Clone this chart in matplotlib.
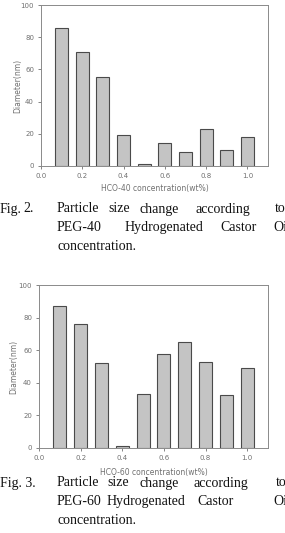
import matplotlib.pyplot as plt

# concentration (wt%) and measured diameter (nm)
conc = [0.1, 0.2, 0.3, 0.4, 0.5, 0.6, 0.7, 0.8, 0.9, 1.0]
hco40 = [86, 71, 55, 19.5, 1, 14.5, 9, 23, 10, 18]
hco60 = [87, 76, 52, 1, 33, 57.5, 65, 52.5, 32.5, 49]
xticks = [0.0, 0.2, 0.4, 0.6, 0.8, 1.0]
yticks = [0, 20, 40, 60, 80, 100]

W, H = 285, 533
fig = plt.figure(figsize=(W / 100, H / 100), dpi=100)

gray = '#707070'


def panel(rect, values, xlabel, xlab_y, ylab_x):
    l, t, r, b = rect
    ax = fig.add_axes([l / W, 1 - b / H, (r - l) / W, (b - t) / H])
    ax.bar(conc, values, width=0.063, color='#c4c4c4', edgecolor='#4a4a4a', linewidth=0.8)
    ax.set_xlim(0, 1.1)
    ax.set_ylim(0, 100)
    ax.set_xticks(xticks)
    ax.set_xticklabels([f"{v:.1f}" for v in xticks])
    ax.set_yticks(yticks)
    ax.tick_params(labelsize=5, colors=gray, length=2, width=0.6, pad=3)
    for s in ax.spines.values():
        s.set_color('#8a8a8a')
        s.set_linewidth(0.7)
    fig.text((l + r) / 2 / W + 0.003, 1 - xlab_y / H, xlabel, fontsize=5.5, color=gray,
             ha='center', va='center')
    fig.text(ylab_x / W, 1 - (t + b) / 2 / H, 'Diameter(nm)', fontsize=5.5, color=gray,
             rotation=90, ha='center', va='center')
    return ax


panel((41, 5, 268, 166), hco40, 'HCO-40 concentration(wt%)', 189, 18)
panel((39, 285, 268, 448), hco60, 'HCO-60 concentration(wt%)', 472, 14)

cap = dict(fontsize=10, family='Liberation Serif', color='#111111', va='center', ha='left')


def caption(lines, y0, step):
    for i, words in enumerate(lines):
        y = 1 - (y0 + i * step) / H
        for x, w in words:
            fig.text(x / W, y, w, **cap)


caption([
    [(0, 'Fig.'), (23, '2.'), (57, 'Particle'), (108, 'size'), (140, 'change'),
     (196, 'according'), (275, 'to')],
    [(57, 'PEG-40'), (125, 'Hydrogenated'), (220, 'Castor'), (273, 'Oil')],
    [(57, 'concentration.')],
], 209, 18.5)

caption([
    [(0, 'Fig. 3.'), (57, 'Particle'), (107, 'size'), (140, 'change'),
     (194, 'according'), (276, 'to')],
    [(57, 'PEG-60'), (107, 'Hydrogenated'), (197, 'Castor'), (273, 'Oil')],
    [(57, 'concentration.')],
], 483, 18.5)

fig.savefig('out.png', dpi=100)
